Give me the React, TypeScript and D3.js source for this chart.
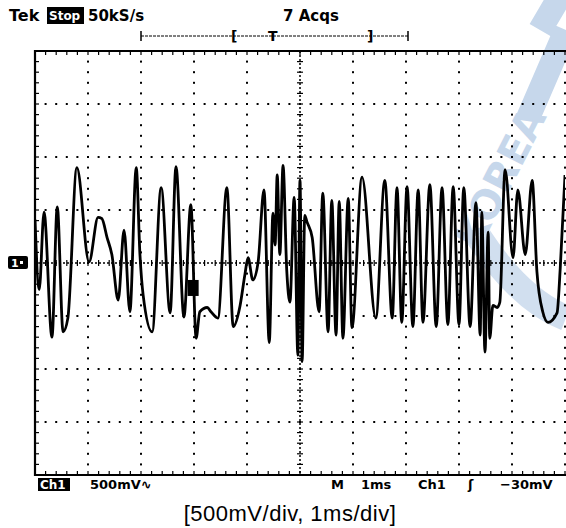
import React, { useEffect, useRef } from "react";
import * as d3 from "d3";

// trace: time in ms, level in mV
const timeMs = [
  0.0, 0.08, 0.17, 0.32, 0.42, 0.53, 0.62, 0.79, 1.02, 1.19, 1.26, 1.36, 1.45, 1.57, 1.68, 1.79,
  1.91, 1.98, 2.04, 2.21, 2.38, 2.55, 2.66, 2.81, 2.94, 3.04, 3.11, 3.25, 3.32, 3.45, 3.62, 3.74,
  3.87, 3.96, 4.02, 4.11, 4.21, 4.32, 4.42, 4.49, 4.53, 4.57, 4.62, 4.68, 4.75, 4.81, 4.89, 4.96,
  5.0, 5.04, 5.09, 5.13, 5.23, 5.36, 5.43, 5.53, 5.6, 5.68, 5.74, 5.81, 5.91, 5.98, 6.17, 6.43,
  6.6, 6.74, 6.83, 6.92, 7.02, 7.13, 7.23, 7.32, 7.45, 7.57, 7.68, 7.79, 7.89, 8.0, 8.09, 8.21,
  8.32, 8.4, 8.43, 8.49, 8.55, 8.58, 8.64, 8.72, 8.77, 8.87, 9.02, 9.11, 9.25, 9.38, 9.47, 9.58,
  9.68, 9.85, 9.91, 10.0,
];
const levelMv = [
  410, -250, 480, -700, 530, -650, -520, 900, 10, 430, 420, 240, 80, -350, 310, -460,
  900, 80, -300, -650, 710, -470, 910, -510, 550, -710, -460, -420, -460, -520, 710, -600,
  -400, -110, 50, -160, 10, 690, -750, 470, 170, 830, 80, 920, -70, -370, 620, -870,
  780, -930, 450, 390, 240, -460, 660, -650, 590, -680, 580, -710, 610, -610, 810, -520,
  780, -520, 710, -560, 720, -600, 690, -560, 740, -600, 710, -580, 720, -580, 710, -600,
  570, -680, 480, -840, 290, -710, -400, -420, -370, 880, 50, 690, 80, 780, -80, -460,
  -560, -470, -50, 830,
];

const headerLabels = ["Tek", "Stop", "50kS/s", "7 Acqs"];
const footerLabels = ["Ch1", "500mV∿", "M", "1ms", "Ch1", "ʃ", "−30mV"];
const caption = "[500mV/div, 1ms/div]";

const W = 566;
const H = 528;
const LEFT = 35;
const RIGHT = 565;
const TOP = 51;
const BOTTOM = 475;
const FONT = "'DejaVu Sans', sans-serif";
const WM = "#c6d7eb";

const App = () => {
  const svgRef = useRef<SVGSVGElement>(null);

  useEffect(() => {
    const svg = d3.select(svgRef.current);
    svg.selectAll("*").remove();

    const x = d3.scaleLinear().domain([0, 10]).range([LEFT, RIGHT]);
    const y = d3.scaleLinear().domain([-2000, 2000]).range([BOTTOM, TOP]);
    const minorX = d3.range(0, 10.001, 0.2);
    const minorY = d3.range(-2000, 2000.1, 100);

    svg.append("rect").attr("width", W).attr("height", H).attr("fill", "white");

    // watermark (faint, behind the screen)
    const wm = svg.append("g").attr("fill", WM).attr("font-family", FONT).attr("font-weight", "bold");
    wm.append("text")
      .attr("transform", "translate(478,252) rotate(-63)")
      .attr("font-size", 40)
      .text("KOREA");
    wm.append("path")
      .attr("d", "M528,118 L566,30 M540,30 L560,-4")
      .attr("fill", "none").attr("stroke", WM).attr("stroke-width", 24);
    wm.append("path")
      .attr("d", "M478,236 Q520,300 566,318")
      .attr("fill", "none").attr("stroke", WM).attr("stroke-width", 26).attr("opacity", 0.8);

    // dotted graticule
    const grid = svg.append("g").attr("fill", "black");
    d3.range(1, 11).filter(d => d !== 5).forEach(d => {
      minorY.forEach(v => {
        grid.append("rect").attr("x", x(d) - 1).attr("y", y(v) - 1).attr("width", 2).attr("height", 2);
      });
    });
    [-1500, -1000, -500, 500, 1000, 1500].forEach(v => {
      minorX.forEach(t => {
        grid.append("rect").attr("x", x(t) - 1).attr("y", y(v) - 1).attr("width", 2).attr("height", 2);
      });
    });

    // centre axes with ticks
    svg.append("line")
      .attr("x1", LEFT).attr("x2", RIGHT).attr("y1", y(0)).attr("y2", y(0))
      .attr("stroke", "black").attr("stroke-width", 1.5).attr("stroke-dasharray", "2,2");
    svg.append("line")
      .attr("x1", x(5)).attr("x2", x(5)).attr("y1", TOP).attr("y2", BOTTOM)
      .attr("stroke", "black").attr("stroke-width", 1.5).attr("stroke-dasharray", "2,2");
    minorX.forEach(t => {
      svg.append("line").attr("x1", x(t)).attr("x2", x(t)).attr("y1", y(0) - 3).attr("y2", y(0) + 3)
        .attr("stroke", "black").attr("stroke-width", 1.2);
      svg.append("line").attr("x1", x(t)).attr("x2", x(t)).attr("y1", TOP).attr("y2", TOP + 4)
        .attr("stroke", "black").attr("stroke-width", 1.2);
      svg.append("line").attr("x1", x(t)).attr("x2", x(t)).attr("y1", BOTTOM).attr("y2", BOTTOM - 4)
        .attr("stroke", "black").attr("stroke-width", 1.2);
    });
    minorY.forEach(v => {
      svg.append("line").attr("x1", x(5) - 3).attr("x2", x(5) + 3).attr("y1", y(v)).attr("y2", y(v))
        .attr("stroke", "black").attr("stroke-width", 1.2);
      svg.append("line").attr("x1", LEFT).attr("x2", LEFT + 4).attr("y1", y(v)).attr("y2", y(v))
        .attr("stroke", "black").attr("stroke-width", 1.2);
    });

    // border
    svg.append("path")
      .attr("d", `M${RIGHT},${TOP} H${LEFT} V${BOTTOM} H${RIGHT}`)
      .attr("fill", "none").attr("stroke", "black").attr("stroke-width", 2.2);

    // trace
    const pts = timeMs.map((t, i) => [t, levelMv[i]] as [number, number]);
    svg.append("clipPath").attr("id", "scr")
      .append("rect").attr("x", LEFT).attr("y", TOP).attr("width", RIGHT - LEFT).attr("height", BOTTOM - TOP);
    const line = d3.line<[number, number]>()
      .x(d => x(d[0]))
      .y(d => y(d[1]))
      .curve(d3.curveMonotoneX);
    svg.append("path")
      .attr("clip-path", "url(#scr)")
      .attr("d", line(pts))
      .attr("fill", "none")
      .attr("stroke", "black")
      .attr("stroke-width", 2.8)
      .attr("stroke-linejoin", "round");

    // trigger point marker
    svg.append("rect").attr("x", x(2.88)).attr("y", y(-160)).attr("width", 11).attr("height", 16).attr("fill", "black");

    // ground marker "1"
    svg.append("rect").attr("x", 8).attr("y", y(0) - 7).attr("width", 20).attr("height", 13).attr("rx", 2).attr("fill", "black");
    svg.append("text").attr("x", 11).attr("y", y(0) + 4).attr("fill", "white")
      .attr("font-family", FONT).attr("font-weight", "bold").attr("font-size", 11).text("1");
    svg.append("rect").attr("x", 20).attr("y", y(0) - 2).attr("width", 3).attr("height", 3).attr("fill", "white");

    // header
    const hdr = svg.append("g").attr("font-family", FONT).attr("font-weight", "bold");
    hdr.append("text").attr("x", 9).attr("y", 21).attr("font-size", 16).text(headerLabels[0]);
    hdr.append("rect").attr("x", 47).attr("y", 7).attr("width", 37).attr("height", 17).attr("fill", "black");
    hdr.append("text").attr("x", 49).attr("y", 20).attr("font-size", 12).attr("fill", "white").text(headerLabels[1]);
    hdr.append("text").attr("x", 88).attr("y", 21).attr("font-size", 15).text(headerLabels[2]);
    hdr.append("text").attr("x", 283).attr("y", 21).attr("font-size", 15).text(headerLabels[3]);

    // record-length bracket
    svg.append("line").attr("x1", 141).attr("x2", 408).attr("y1", 36).attr("y2", 36)
      .attr("stroke", "black").attr("stroke-width", 1).attr("stroke-dasharray", "3,1");
    [141, 408].forEach(px => {
      svg.append("line").attr("x1", px).attr("x2", px).attr("y1", 31).attr("y2", 41)
        .attr("stroke", "black").attr("stroke-width", 1.5);
    });
    hdr.append("text").attr("x", 231).attr("y", 41).attr("font-size", 14).text("[");
    hdr.append("text").attr("x", 367).attr("y", 41).attr("font-size", 14).text("]");
    hdr.append("text").attr("x", 268).attr("y", 41).attr("font-size", 14).text("T");

    // footer
    const ft = svg.append("g").attr("font-family", FONT).attr("font-weight", "bold").attr("font-size", 13);
    ft.append("rect").attr("x", 38).attr("y", 478).attr("width", 32).attr("height", 13).attr("fill", "black");
    ft.append("text").attr("x", 40).attr("y", 489).attr("fill", "white").attr("font-size", 12).text(footerLabels[0]);
    const footX = [90, 331, 361, 418, 468, 500];
    footerLabels.slice(1).forEach((s, i) => {
      ft.append("text").attr("x", footX[i]).attr("y", 489).text(s);
    });

    svg.append("text")
      .attr("x", 290).attr("y", 521)
      .attr("text-anchor", "middle")
      .attr("font-family", "'Liberation Sans', Arial, sans-serif")
      .attr("font-size", 22)
      .attr("letter-spacing", 0.5)
      .text(caption);
  }, []);

  return (
    <svg ref={svgRef} width={W} height={H} style={{ position: "absolute", left: 0, top: 0 }} />
  );
};

export default App;
